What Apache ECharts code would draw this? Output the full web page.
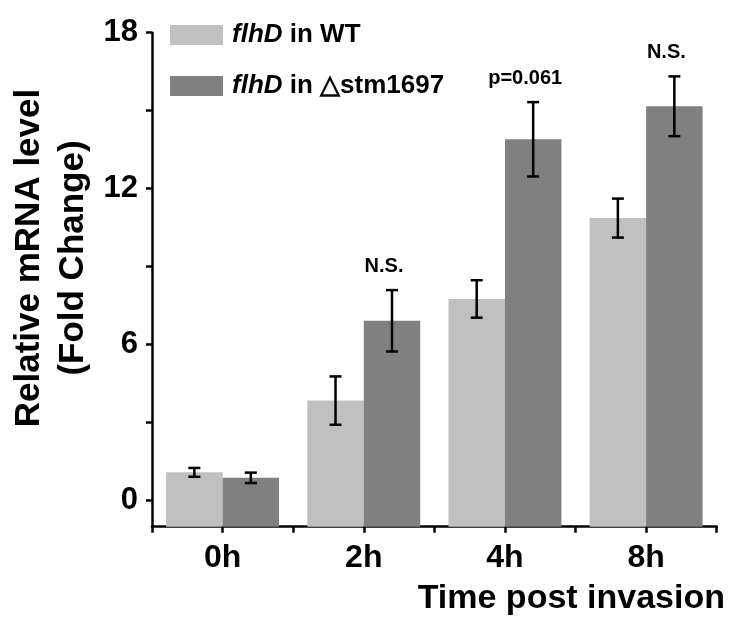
<!DOCTYPE html>
<html><head><meta charset="utf-8">
<script src="https://cdn.jsdelivr.net/npm/echarts@6/dist/echarts.min.js"></script>
<style>html,body{margin:0;padding:0;background:#fff}#c{width:729px;height:625px}</style>
</head><body><div id="c"></div>
<script>
// ---- data ----
const categories = ['0h', '2h', '4h', '8h'];
const wtName = 'flhD in WT';
const koName = 'flhD in \u25B3stm1697';
const wtValues = [1.09, 3.85, 7.76, 10.87];
const wtErrors = [0.17, 0.93, 0.72, 0.75];
const koValues = [0.88, 6.92, 13.90, 15.17];
const koErrors = [0.20, 1.18, 1.43, 1.15];
const yTickValues = [0, 3, 6, 9, 12, 15, 18];
const yLabelValues = [0, 6, 12, 18];
const annotCategories = ['2h', '4h', '8h'];
const annotTexts = ['N.S.', 'p=0.061', 'N.S.'];
const Y_MIN = -1, Y_MAX = 18;

// ---- styles ----
const FONT = '"Liberation Sans", Arial, Helvetica, sans-serif';
const LIGHT = '#c0c0c0', DARK = '#808080';
const AXW = 2.5;
const BAR_FRAC = 0.4;   // each bar = 40% of the category band (20% gap each side)

const chart = echarts.init(document.getElementById('c'), null, {renderer: 'canvas'});

// bars drawn from the bottom of the value axis up to the value
function barRenderer(sign, color) {
  return function (params, api) {
    const ci = api.value(0), v = api.value(1);
    const band = api.size([1, 0])[0];
    const w = band * BAR_FRAC;
    const top = api.coord([ci, v]);
    const bot = api.coord([ci, Y_MIN]);
    const left = sign < 0 ? top[0] - w : top[0];
    return {type: 'rect', shape: {x: left, y: top[1], width: w, height: bot[1] - top[1]},
      style: {fill: color}};
  };
}

function errRenderer(sign) {
  return function (params, api) {
    const ci = api.value(0), m = api.value(1), e = api.value(2);
    const band = api.size([1, 0])[0];
    const x = api.coord([ci, m])[0] + sign * band * BAR_FRAC / 2;
    const yT = api.coord([ci, m + e])[1], yB = api.coord([ci, m - e])[1];
    const hw = 6;
    const st = {stroke: '#000', lineWidth: 2.5};
    return {type: 'group', children: [
      {type: 'line', shape: {x1: x, y1: yT, x2: x, y2: yB}, style: st},
      {type: 'line', shape: {x1: x - hw, y1: yT, x2: x + hw, y2: yT}, style: st},
      {type: 'line', shape: {x1: x - hw, y1: yB, x2: x + hw, y2: yB}, style: st}
    ]};
  };
}

function annotRenderer(params, api) {
  const ci = api.value(0), top = api.value(1);
  const band = api.size([1, 0])[0];
  const p = api.coord([ci, top]);
  return {type: 'text', style: {
    text: annotTexts[params.dataIndex],
    x: p[0] + band * BAR_FRAC / 2 - 8, y: p[1] - 24,
    textAlign: 'center', textVerticalAlign: 'middle',
    font: 'bold 20px ' + FONT, fill: '#000'
  }};
}

const legendCommon = {
  left: 165, itemWidth: 53, itemHeight: 20, icon: 'rect', orient: 'vertical',
  selectedMode: false,
  formatter: function (name) {
    return '{i|flhD}{n|' + name.replace('flhD', '') + '}';
  },
  textStyle: {
    color: '#000', fontSize: 26, fontWeight: 'bold', fontFamily: FONT, lineHeight: 22,
    rich: {
      i: {fontStyle: 'italic', fontWeight: 'bold', fontSize: 26, fontFamily: FONT, color: '#000', padding: [0, 0, 0, 4]},
      n: {fontWeight: 'bold', fontSize: 26, fontFamily: FONT, color: '#000'}
    }
  }
};

const option = {
  backgroundColor: '#fff',
  animation: false,
  grid: {left: 152, right: 12.3, top: 32.7, bottom: 98.3, containLabel: false, outerBoundsMode: 'none'},
  legend: [
    Object.assign({}, legendCommon, {top: 17, data: [{name: wtName, itemStyle: {color: LIGHT}}]}),
    Object.assign({}, legendCommon, {top: 68, data: [{name: koName, itemStyle: {color: DARK}}]})
  ],
  xAxis: [
    {
      type: 'category', data: categories, position: 'bottom', boundaryGap: true,
      axisLine: {show: true, onZero: false, lineStyle: {color: '#000', width: AXW}},
      axisTick: {show: true, alignWithLabel: true, length: 6, lineStyle: {color: '#000', width: AXW}},
      axisLabel: {color: '#000', fontSize: 32, fontWeight: 'bold', fontFamily: FONT, margin: 15},
      splitLine: {show: false}
    },
    {
      type: 'category', data: categories, position: 'bottom', offset: 0, boundaryGap: true,
      axisLine: {show: false, onZero: false},
      axisTick: {show: true, length: 6, lineStyle: {color: '#000', width: AXW}},
      axisLabel: {show: false},
      splitLine: {show: false}
    }
  ],
  yAxis: {
    type: 'value', min: Y_MIN, max: Y_MAX,
    axisLine: {show: true, onZero: false, lineStyle: {color: '#000', width: AXW}},
    axisTick: {show: true, length: 6, customValues: yTickValues, lineStyle: {color: '#000', width: AXW}},
    axisLabel: {customValues: yLabelValues, color: '#000', fontSize: 31, fontWeight: 'bold', fontFamily: FONT, margin: 14},
    splitLine: {show: false}
  },
  series: [
    {type: 'custom', name: wtName, renderItem: barRenderer(-1, LIGHT), z: 2,
      itemStyle: {color: LIGHT}, encode: {x: 0, y: 1},
      data: categories.map((c, i) => [i, wtValues[i]])},
    {type: 'custom', name: koName, renderItem: barRenderer(1, DARK), z: 2,
      itemStyle: {color: DARK}, encode: {x: 0, y: 1},
      data: categories.map((c, i) => [i, koValues[i]])},
    {type: 'custom', name: 'wtErr', renderItem: errRenderer(-1), z: 5, clip: false,
      encode: {x: 0, y: 1},
      data: categories.map((c, i) => [i, wtValues[i], wtErrors[i]])},
    {type: 'custom', name: 'koErr', renderItem: errRenderer(1), z: 5, clip: false,
      encode: {x: 0, y: 1},
      data: categories.map((c, i) => [i, koValues[i], koErrors[i]])},
    {type: 'custom', name: 'annot', renderItem: annotRenderer, z: 6, clip: false,
      encode: {x: 0, y: 1},
      data: annotCategories.map(c => { const i = categories.indexOf(c); return [i, koValues[i] + koErrors[i]]; })}
  ],
  graphic: [
    {type: 'text', x: 51, y: 258, rotation: Math.PI / 2,
      style: {text: 'Relative mRNA level\n(Fold Change)', textAlign: 'center', textVerticalAlign: 'middle',
        font: 'bold 35px ' + FONT, lineHeight: 44, fill: '#000'}},
    {type: 'text', x: 725, y: 599,
      style: {text: 'Time post invasion', textAlign: 'right', textVerticalAlign: 'middle',
        font: 'bold 34px ' + FONT, fill: '#000'}}
  ]
};
chart.setOption(option);
</script>
</body></html>
